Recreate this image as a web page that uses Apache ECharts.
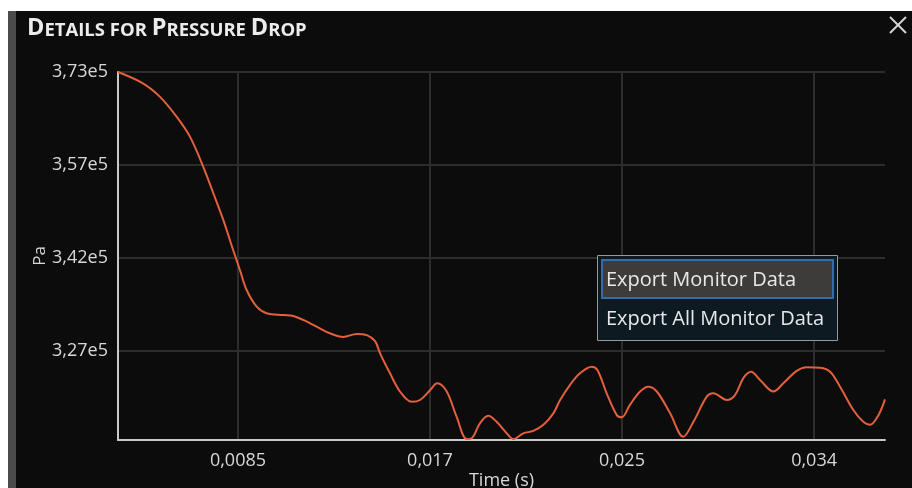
<!DOCTYPE html>
<html>
<head>
<meta charset="utf-8">
<title>Details for Pressure Drop</title>
<script src="https://cdn.jsdelivr.net/npm/echarts@6/dist/echarts.min.js"></script>
<style>
  html, body { margin: 0; padding: 0; background: #ffffff; }
  #chart { width: 912px; height: 488px; }
</style>
</head>
<body>
<div id="chart"></div>
<script>
// Monitor samples: time in seconds, pressure drop in Pa
const timeS = [
  0.00319, 0.00431, 0.00505, 0.00579, 0.00638, 0.00696, 0.00741, 0.00785,
  0.00829, 0.00859, 0.00889, 0.00933, 0.00977, 0.01051, 0.01095, 0.01139,
  0.01198, 0.01257, 0.01316, 0.01376, 0.01420, 0.01457, 0.01479, 0.01523,
  0.01567, 0.01619, 0.01656, 0.01700, 0.01732, 0.01774, 0.01818, 0.01863,
  0.01885, 0.01921, 0.01958, 0.01995, 0.02040, 0.02069, 0.02113, 0.02157,
  0.02202, 0.02246, 0.02276, 0.02320, 0.02364, 0.02416, 0.02441, 0.02482,
  0.02527, 0.02549, 0.02585, 0.02630, 0.02666, 0.02704, 0.02763, 0.02821,
  0.02866, 0.02925, 0.02954, 0.03014, 0.03050, 0.03087, 0.03121, 0.03161,
  0.03220, 0.03264, 0.03323, 0.03368, 0.03427, 0.03471, 0.03515, 0.03574,
  0.03618, 0.03648, 0.03685, 0.03714
];
const pressurePa = [
  373000, 371100, 368900, 365600, 362300, 357400, 353000, 348600,
  343600, 340300, 337000, 334300, 333200, 332900, 332750, 332100,
  331000, 329900, 329300, 329800, 329600, 328600, 326600, 323300,
  320300, 318600, 318900, 320500, 321650, 320300, 316100, 312450,
  312600, 315050, 316300, 315300, 313400, 312450, 313400, 313800,
  314800, 316700, 318900, 321400, 323300, 324400, 323850, 320000,
  316400, 316050, 318100, 320300, 321100, 320300, 316700, 312850,
  315300, 319450, 320000, 318900, 319700, 322500, 323550, 322200,
  320300, 321650, 323700, 324300, 324200, 323550, 321100, 317250,
  315300, 314800, 316400, 319000
];

// Axis ticks and their printed labels
const xTickValues = [0.0085, 0.017, 0.0255, 0.034];
const xTickLabels = ['0,0085', '0,017', '0,025', '0,034'];
const yTickValues = [327000, 342333, 357667, 373000];
const yTickLabels = ['3,27e5', '3,42e5', '3,57e5', '3,73e5'];

const xRange = [0.00319, 0.03714];
const yRange = [312300, 373000];

const FONT = '"Open Sans", "Noto Sans", sans-serif';
const TEXT = '#d8d8d8';

function lookupLabel(values, labels, v) {
  let best = 0;
  for (let i = 1; i < values.length; i++) {
    if (Math.abs(values[i] - v) < Math.abs(values[best] - v)) best = i;
  }
  return labels[best];
}

const chart = echarts.init(document.getElementById('chart'), null, { renderer: 'canvas' });

const option = {
  backgroundColor: '#0c0c0c',
  animation: false,
  grid: { left: 118, top: 72, right: 27, bottom: 48, containLabel: false, outerBoundsMode: 'none' },
  xAxis: {
    type: 'value',
    min: xRange[0],
    max: xRange[1],
    name: 'Time (s)',
    nameLocation: 'middle',
    nameGap: 32,
    nameMoveOverlap: false,
    nameTextStyle: { color: TEXT, fontFamily: FONT, fontSize: 18 },
    axisLine: { show: true, onZero: false, lineStyle: { color: '#c9c9c9', width: 2 } },
    axisTick: { show: false, customValues: xTickValues },
    axisLabel: {
      customValues: xTickValues,
      color: TEXT, fontFamily: FONT, fontSize: 18, margin: 12,
      formatter: v => lookupLabel(xTickValues, xTickLabels, v)
    },
    splitLine: { show: true, lineStyle: { color: '#2d2d2d', width: 2 } }
  },
  yAxis: {
    type: 'value',
    min: yRange[0],
    max: yRange[1],
    name: 'Pa',
    nameLocation: 'middle',
    nameRotate: 90,
    nameGap: 69,
    nameMoveOverlap: false,
    nameTextStyle: { color: TEXT, fontFamily: FONT, fontSize: 17 },
    axisLine: { show: true, onZero: false, lineStyle: { color: '#c9c9c9', width: 2 } },
    axisTick: { show: false, customValues: yTickValues },
    axisLabel: {
      customValues: yTickValues,
      color: TEXT, fontFamily: FONT, fontSize: 18, margin: 10,
      formatter: v => lookupLabel(yTickValues, yTickLabels, v)
    },
    splitLine: { show: true, lineStyle: { color: '#2d2d2d', width: 2 } }
  },
  series: [{
    type: 'line',
    data: timeS.map((t, i) => [t, pressurePa[i]]),
    showSymbol: false,
    smooth: 0.35,
    lineStyle: { color: '#e4603d', width: 2 },
    clip: true,
    z: 3
  }],
  graphic: [
    // window frame: white margin on top and left, grey side strip
    { type: 'rect', z: 1, shape: { x: 0, y: 0, width: 912, height: 11 }, style: { fill: '#ffffff' } },
    { type: 'rect', z: 1, shape: { x: 0, y: 0, width: 8, height: 488 }, style: { fill: '#ffffff' } },
    { type: 'rect', z: 1, shape: { x: 8, y: 11, width: 8, height: 477 }, style: { fill: '#4b4b4b' } },
    // title in small capitals
    {
      type: 'text', z: 10, x: 27, y: 40,
      style: {
        text: '{b|D}{s|ETAILS FOR }{b|P}{s|RESSURE }{b|D}{s|ROP}',
        verticalAlign: 'bottom',
        rich: {
          b: { fill: '#ececec', fontFamily: FONT, fontWeight: 700, fontSize: 23.5, lineHeight: 26, verticalAlign: 'bottom' },
          s: { fill: '#ececec', fontFamily: FONT, fontWeight: 700, fontSize: 18.5, lineHeight: 26, verticalAlign: 'bottom' }
        }
      }
    },
    // close button
    { type: 'line', z: 10, shape: { x1: 890, y1: 17, x2: 906, y2: 33 }, style: { stroke: '#d4d4d4', lineWidth: 2 } },
    { type: 'line', z: 10, shape: { x1: 906, y1: 17, x2: 890, y2: 33 }, style: { stroke: '#d4d4d4', lineWidth: 2 } },
    // context menu
    { type: 'rect', z: 50, shape: { x: 597.5, y: 255.5, width: 240, height: 85 }, style: { fill: '#0e1a22', stroke: '#8f9ba3', lineWidth: 1 } },
    { type: 'rect', z: 51, shape: { x: 602, y: 260, width: 231, height: 38 }, style: { fill: '#3e3c3a', stroke: '#2f6db0', lineWidth: 2 } },
    {
      type: 'text', z: 52, x: 606, y: 280,
      style: { text: 'Export Monitor Data', fill: '#e8e8e8', fontFamily: FONT, fontSize: 20, verticalAlign: 'middle' }
    },
    {
      type: 'text', z: 52, x: 606, y: 319,
      style: { text: 'Export All Monitor Data', fill: '#e8e8e8', fontFamily: FONT, fontSize: 20, verticalAlign: 'middle' }
    }
  ]
};

chart.setOption(option);
</script>
</body>
</html>
